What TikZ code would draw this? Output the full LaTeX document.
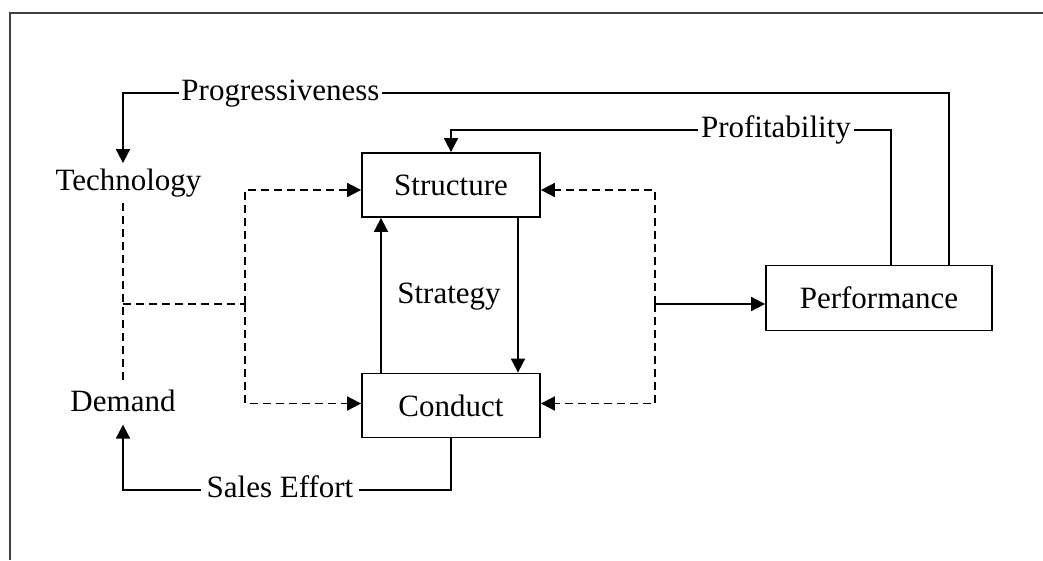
\documentclass[tikz,border=0pt]{standalone}
\usepackage{fontspec}
\setmainfont{Liberation Serif}
\usepackage{tikz}
\usetikzlibrary{arrows.meta}

\begin{document}
\begin{tikzpicture}[x=1pt,y=-1pt,line width=1.8pt,
	every node/.style={font=\fontsize{31pt}{37pt}\selectfont},
	label/.style={inner xsep=2pt,inner ysep=6pt,text height=20pt,text depth=6pt,anchor=base},
	box/.style={draw,minimum width=178pt,minimum height=64pt,inner sep=0pt},
	arr/.style={-{Triangle[length=14pt,width=14pt]}},
	dsh/.style={dash pattern=on 8pt off 5pt}]
	\useasboundingbox (0,0) rectangle (1043,560);
	\draw[black!75,line width=2pt] (10,560) -- (10,13) -- (1043,13);
	
	% boxes
	\node[box] (struct) at (451,185) {Structure};
	\node[box] (cond) at (451,405.5) {Conduct};
	\node[box,minimum width=226pt,minimum height=65pt] (perf) at (879,298) {Performance};
	
	% labels
	\node[label] (tech) at (128.5,190) {Technology};
	\node[label] (dem) at (123,411.7) {Demand};
	\node[label] (prog) at (280.5,100) {Progressiveness};
	\node[label] (prof) at (776,137) {Profitability};
	\node[label,inner xsep=5pt] (sales) at (280,497) {Sales Effort};
	\node[label] (strat) at (449,303) {Strategy};
	
	\coordinate (jl) at (245,304);
	\coordinate (jr) at (655,304);
	
	% feedback lines
	\draw ([xshift=70pt]perf.north) |- (prog.east);
	\draw[arr] (prog.west) -| (tech.north -| dem);
	\draw ([xshift=12pt]perf.north) |- (prof.east);
	\draw[arr] (prof.west) -| (struct.north);
	\draw (cond.south) |- (sales.east);
	\draw[arr] (sales.west) -| (dem.south);
	
	% structure - conduct
	\draw[arr] ([xshift=-70pt]cond.north) -- ([xshift=-70pt]struct.south);
	\draw[arr] ([xshift=67pt]struct.south) -- ([xshift=67pt]cond.north);
	
	% dashed links
	\draw[dsh] (tech.south -| dem) -- (dem.north);
	\draw[dsh] (dem.north |- jl) -- (jl);
	\draw[dsh,arr] (jl) |- ([yshift=-5pt]struct.west);
	\draw[dsh,arr] (jl) |- ([yshift=2pt]cond.west);
	\draw[dsh,arr] (jr) |- ([yshift=-5pt]struct.east);
	\draw[dsh,arr] (jr) |- ([yshift=2pt]cond.east);
	\draw[arr] (jr) -- (jr -| perf.west);
\end{tikzpicture}
\end{document}
